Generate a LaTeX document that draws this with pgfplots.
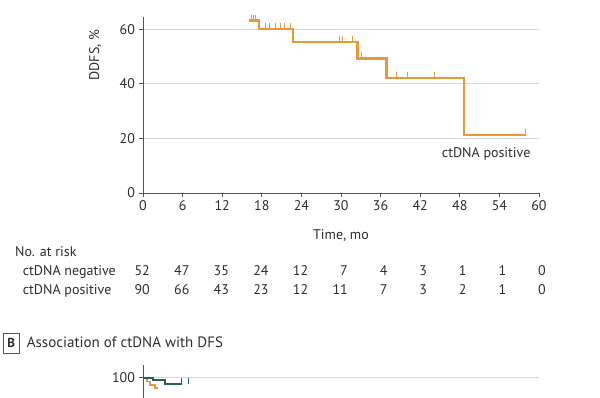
\documentclass[border=0pt]{standalone}
\usepackage{fontspec}
\setmainfont{PT Sans}
\usepackage{pgfplots}
\pgfplotsset{compat=1.18}
\definecolor{km}{RGB}{232,152,56}
\definecolor{teal2}{RGB}{40,95,95}
\definecolor{txt}{RGB}{45,45,45}
\definecolor{axl}{RGB}{85,85,85}
\definecolor{grd}{RGB}{215,215,215}
\pgfdeclareplotmark{cens}{\pgfpathmoveto{\pgfpoint{0pt}{0pt}}\pgfpathlineto{\pgfpoint{0pt}{6pt}}\pgfusepathqstroke}
\begin{document}
\begin{tikzpicture}[font=\fontsize{14}{16}\selectfont, text=txt]
\begin{axis}[
  at={(143pt,205pt)}, anchor=south west,
  width=396pt, height=176pt, scale only axis,
  xmin=0, xmax=60, ymin=0, ymax=64.5,
  axis lines*=left,
  axis line style={axl, line width=0.8pt},
  xtick={0,6,...,60}, ytick={0,20,40,60},
  tick align=outside, major tick length=4.5pt,
  tick style={axl, line width=0.8pt},
  ymajorgrids, grid style={grd, line width=0.8pt},
  /pgf/number format/assume math mode=true,
  ticklabel style={font=\fontsize{14}{16}\selectfont, text=txt},
  xlabel={Time, mo}, ylabel={DDFS, \%},
  xlabel style={at={(axis description cs:0.5,-0.24)}, anchor=center},
  ylabel style={at={(axis description cs:-0.121,0.784)}, anchor=center},
  clip=false,
]
\addplot[km, line width=2.2pt, const plot] coordinates {
  (16.0,63.2) (17.6,60.0) (22.7,55.4) (32.5,49.3) (36.9,42.2) (48.6,21.2) (58.0,21.2)};
\addplot[km, line width=0.9pt, only marks, mark=cens] coordinates {
  (16.4,63.2) (16.8,63.2) (17.1,63.2)
  (18.5,60.0) (19.2,60.0) (20.0,60.0) (20.8,60.0) (21.5,60.0) (22.3,60.0)
  (29.8,55.4) (30.2,55.4) (31.7,55.4)
  (33.1,49.3)
  (38.4,42.2) (40.0,42.2) (44.1,42.2)
  (58.0,21.2)};
\node[anchor=center] at (axis cs:52.0,14.3) {ctDNA positive};
\end{axis}
% panel B fragment
\begin{axis}[
  at={(143pt,0pt)}, anchor=south west,
  width=396pt, height=33pt, scale only axis,
  xmin=0, xmax=60, ymin=92.6, ymax=104.6,
  axis y line*=left, axis x line=none,
  axis line style={axl, line width=0.8pt},
  ytick={100}, xtick=\empty,
  tick align=outside, major tick length=4.5pt,
  tick style={axl, line width=0.8pt},
  ymajorgrids, grid style={grd, line width=0.8pt},
  /pgf/number format/assume math mode=true,
  ticklabel style={font=\fontsize{14}{16}\selectfont, text=txt},
]
\addplot[km, line width=1.8pt, const plot] coordinates {
  (0,100) (0.55,98.6) (1.06,97.4) (1.8,96.3) (2.3,96.3)};
\addplot[teal2, line width=1.8pt, const plot] coordinates {
  (0,100) (1.56,99.0) (3.3,97.8) (5.9,97.8)};
\addplot[teal2, line width=0.9pt, only marks, mark=cens] coordinates {
  (5.9,97.8) (6.9,97.8)};
\end{axis}
% risk table
\node[anchor=base west, inner sep=0pt] at (15pt,141pt) {No. at risk};
\node[anchor=base west, inner sep=0pt] at (22.7pt,122pt) {ctDNA negative};
\node[anchor=base west, inner sep=0pt] at (22.7pt,103pt) {ctDNA positive};
\foreach \v [count=\i from 0] in {52,47,35,24,12,7,4,3,1,1,0}
  \node[anchor=base east, inner sep=0pt] at ({(150+39.6*\i)*1pt},122pt) {\v};
\foreach \v [count=\i from 0] in {90,66,43,23,12,11,7,3,2,1,0}
  \node[anchor=base east, inner sep=0pt] at ({(150+39.6*\i)*1pt},103pt) {\v};
% panel B header
\draw[axl, line width=0.7pt] (3.3pt,45pt) rectangle (19pt,65pt);
\node[anchor=center, font=\fontsize{13}{15}\selectfont\bfseries] at (11.2pt,55pt) {B};
\node[anchor=base west, inner sep=0pt, font=\fontsize{15}{17}\selectfont] at (26.7pt,50pt) {Association of ctDNA with DFS};
\pgfresetboundingbox
\useasboundingbox (0,0) rectangle (600pt,398pt);
\end{tikzpicture}
\end{document}
